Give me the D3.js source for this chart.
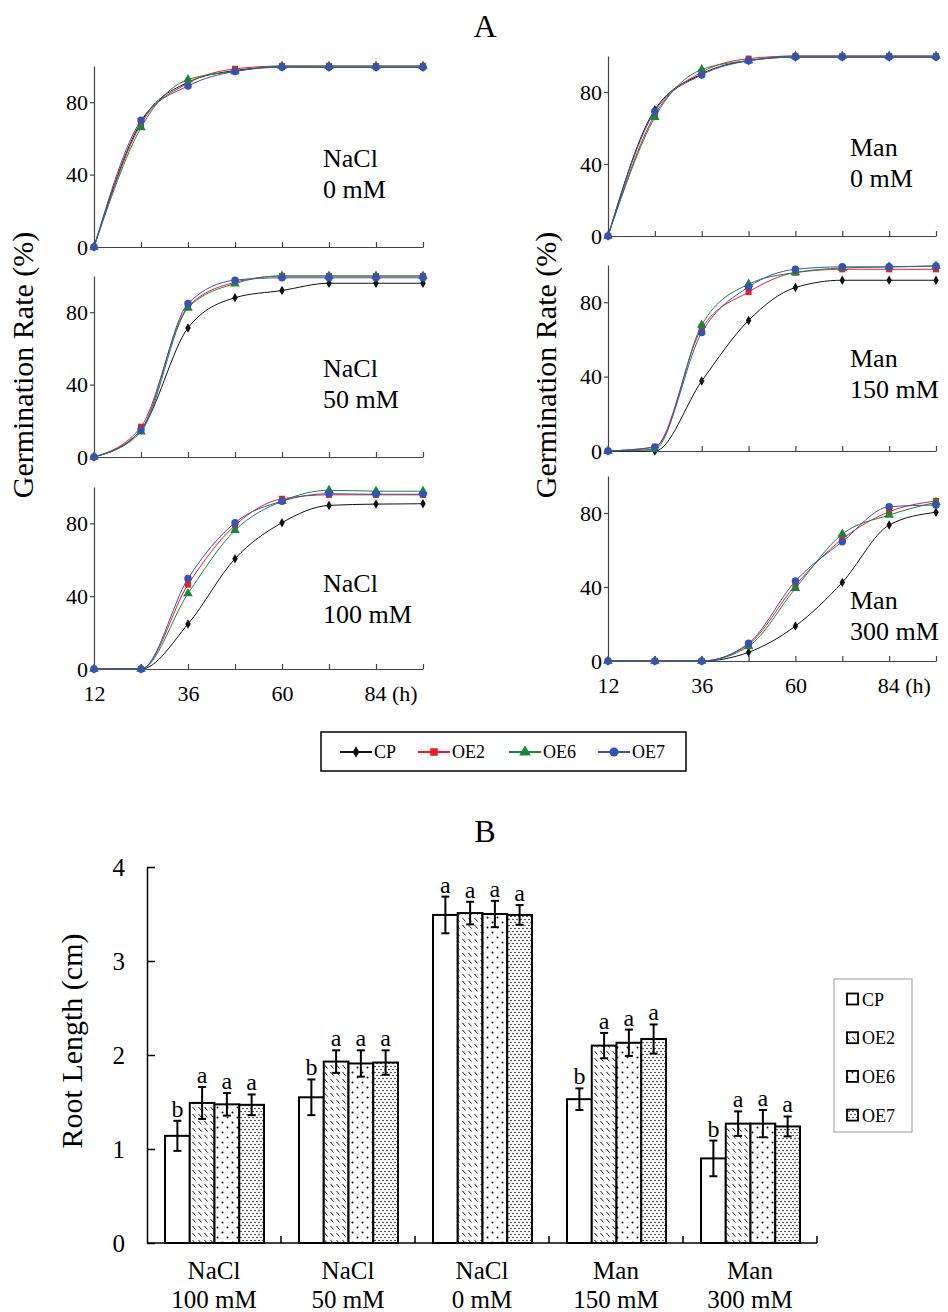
<!DOCTYPE html>
<html>
<head>
<meta charset="utf-8">
<script src="https://cdn.jsdelivr.net/npm/d3@7/dist/d3.min.js"></script>
<style>
body { margin: 0; background: #fff; }
text { font-family: "Liberation Serif", "Times New Roman", serif; fill: #000; }
</style>
</head>
<body>
<svg id="fig" width="948" height="1312"></svg>
<script>
// ---- data ----
// sampling times (h)
var hours = [12, 24, 36, 48, 60, 72, 84, 96];
var lines = ["CP", "OE2", "OE6", "OE7"];
var xLabelHours = [12, 36, 60, 84];
var yTicksA = [0, 40, 80];
var yTicksB = [0, 1, 2, 3, 4];

// germination rate (%), rows = CP, OE2, OE6, OE7
var nacl0 = [
	[0, 69, 91, 97.5, 99.5, 99.3, 99.3, 99.3],
	[0, 68, 90.5, 98.4, 100, 100, 100, 100],
	[0, 66, 92.5, 97, 100, 100, 100, 100],
	[0, 70, 89, 97, 99.3, 99.3, 99.3, 99.3]
];
var nacl50 = [
	[0, 15, 71.3, 88, 92, 96, 96, 96],
	[0, 16.7, 83, 96.5, 100, 100, 100, 100],
	[0, 14, 82.4, 95.8, 100, 100, 100, 100],
	[0, 15, 84.8, 97.7, 99, 99, 99, 99]
];
var nacl100 = [
	[0, 0, 24.7, 60.6, 80.4, 89.9, 90.6, 90.8],
	[0, 0, 46.4, 78.9, 93.5, 95.7, 95.7, 95.7],
	[0, 0, 41.5, 76.2, 92.2, 98.2, 97.7, 97.7],
	[0, 0, 49.7, 80.4, 92.2, 96.3, 96, 96]
];
var man0 = [
	[0, 70.2, 90, 97.5, 99.4, 99.4, 99.4, 99.4],
	[0, 67.4, 91, 98.5, 100, 100, 100, 100],
	[0, 66, 92.5, 97.5, 100, 100, 100, 100],
	[0, 69.3, 89.5, 97.3, 99.4, 99.4, 99.4, 99.4]
];
var man150 = [
	[0, 0, 37.6, 70.2, 87.9, 91.8, 91.8, 91.8],
	[0, 2.3, 65.9, 85.5, 95.9, 97.7, 97.7, 97.7],
	[0, 1, 67.7, 89.7, 96, 98.4, 99, 99.5],
	[0, 2, 63.7, 88.2, 97.7, 99, 99, 99.5]
];
var man300 = [
	[0, 0, 0, 4.7, 18.9, 42.5, 73.5, 80.4],
	[0, 0, 0, 9, 41, 65.9, 80.7, 86.5],
	[0, 0, 0, 8, 39.3, 68.6, 78.9, 85.8],
	[0, 0, 0, 9.6, 43.2, 64.5, 83.4, 84.3]
];

// root length (cm)
var rootGroups = ["NaCl 100 mM", "NaCl 50 mM", "NaCl 0 mM", "Man 150 mM", "Man 300 mM"];
var rootCP  = [1.14, 1.55, 3.49, 1.53, 0.90];
var rootOE2 = [1.49, 1.93, 3.51, 2.10, 1.27];
var rootOE6 = [1.475, 1.91, 3.50, 2.13, 1.27];
var rootOE7 = [1.47, 1.92, 3.49, 2.17, 1.24];
var errCP  = [0.16, 0.19, 0.195, 0.115, 0.19];
var errOE2 = [0.17, 0.12, 0.12, 0.135, 0.13];
var errOE6 = [0.12, 0.14, 0.14, 0.14, 0.145];
var errOE7 = [0.11, 0.13, 0.105, 0.155, 0.106];
var letterCP  = ["b", "b", "a", "b", "b"];
var letterOE2 = ["a", "a", "a", "a", "a"];
var letterOE6 = ["a", "a", "a", "a", "a"];
var letterOE7 = ["a", "a", "a", "a", "a"];

// ---- styles ----
var serif = '"Liberation Serif", "Times New Roman", serif';
var lineColors = ["#111111", "#ee1c24", "#17873b", "#3852b4"];
var symbols = [d3.symbolDiamond, d3.symbolSquare, d3.symbolTriangle, d3.symbolCircle];
var symbolSizes = [26, 38, 40, 44];
var barFills = ["#fff", "url(#hatch)", "url(#dotsSparse)", "url(#dotsDense)"];

var svg = d3.select("#fig");

// patterns for the bars
var defs = svg.append("defs");
var hatch = defs.append("pattern").attr("id", "hatch").attr("patternUnits", "userSpaceOnUse")
		.attr("width", 6).attr("height", 7);
hatch.append("rect").attr("width", 6).attr("height", 7).attr("fill", "#fff");
hatch.append("path").attr("d", "M0.5,1 L3.5,4.5").attr("stroke", "#000").attr("stroke-width", 0.9);
var sparse = defs.append("pattern").attr("id", "dotsSparse").attr("patternUnits", "userSpaceOnUse")
		.attr("width", 10).attr("height", 10);
sparse.append("rect").attr("width", 10).attr("height", 10).attr("fill", "#fff");
sparse.append("circle").attr("cx", 2.5).attr("cy", 2.5).attr("r", 1).attr("fill", "#000");
sparse.append("circle").attr("cx", 7.5).attr("cy", 7.5).attr("r", 1).attr("fill", "#000");
var dense = defs.append("pattern").attr("id", "dotsDense").attr("patternUnits", "userSpaceOnUse")
		.attr("width", 4).attr("height", 6);
dense.append("rect").attr("width", 4).attr("height", 6).attr("fill", "#fff");
dense.append("circle").attr("cx", 1).attr("cy", 1.5).attr("r", 0.75).attr("fill", "#000");
dense.append("circle").attr("cx", 3).attr("cy", 4.5).attr("r", 0.75).attr("fill", "#000");

// ================= panel A =================
svg.append("text").attr("x", 485).attr("y", 37).attr("text-anchor", "middle")
		.style("font-size", "32px").text("A");

var panels = [
	{data: nacl0,   label: ["NaCl", "0 mM"],   x0: 94,  x1: 423, y0: 247, y1: 66,  lx: 323, ly: 167, bottom: false},
	{data: nacl50,  label: ["NaCl", "50 mM"],  x0: 94,  x1: 423, y0: 457, y1: 276, lx: 323, ly: 377, bottom: false},
	{data: nacl100, label: ["NaCl", "100 mM"], x0: 94,  x1: 423, y0: 669, y1: 487, lx: 323, ly: 592, bottom: true},
	{data: man0,    label: ["Man", "0 mM"],    x0: 608, x1: 936, y0: 236, y1: 56,  lx: 850, ly: 156, bottom: false},
	{data: man150,  label: ["Man", "150 mM"],  x0: 608, x1: 936, y0: 451, y1: 265, lx: 850, ly: 367, bottom: false},
	{data: man300,  label: ["Man", "300 mM"],  x0: 608, x1: 936, y0: 661, y1: 476, lx: 850, ly: 609, bottom: true}
];

function drawPanel(p) {
	var x = d3.scaleLinear().domain([12, 96]).range([p.x0, p.x1]);
	var y = d3.scaleLinear().domain([0, 100]).range([p.y0, p.y1]);
	var g = svg.append("g");

	// x axis, ticks pointing up
	var xAxis = d3.axisBottom(x).tickValues(hours).tickSize(-5).tickSizeOuter(0).tickPadding(16)
			.tickFormat(function(d) {
				if (!p.bottom || xLabelHours.indexOf(d) < 0) return "";
				return d == 84 ? "84 (h)" : d;
			});
	var gx = g.append("g").attr("transform", "translate(0," + p.y0 + ")").call(xAxis)
			.attr("font-family", serif).attr("font-size", 22);
	// "(h)" hangs to the right of 84
	gx.selectAll(".tick text").filter(function(d) { return d == 84; })
			.attr("text-anchor", "start").attr("x", -12);

	var yAxis = d3.axisLeft(y).tickValues(yTicksA).tickSizeInner(4).tickSizeOuter(0).tickPadding(2);
	g.append("g").attr("transform", "translate(" + p.x0 + ",0)").call(yAxis)
			.attr("font-family", serif).attr("font-size", 22);

	g.selectAll(".domain, .tick line").attr("stroke", "#444").attr("stroke-width", 1.2);

	// smoothed lines and markers
	var line = d3.line().x(function(d, i) { return x(hours[i]); }).y(function(d) { return y(d); })
			.curve(d3.curveMonotoneX);
	p.data.forEach(function(series, k) {
		g.append("path").attr("d", line(series)).attr("fill", "none")
				.attr("stroke", lineColors[k]).attr("stroke-width", 1);
		g.selectAll(".m" + k).data(series).enter().append("path").attr("class", "m" + k)
				.attr("d", d3.symbol().type(symbols[k]).size(symbolSizes[k]))
				.attr("transform", function(d, i) { return "translate(" + x(hours[i]) + "," + y(d) + ")"; })
				.attr("fill", lineColors[k]);
	});

	// treatment label
	var t = g.append("text").attr("x", p.lx).attr("y", p.ly).style("font-size", "26px");
	t.append("tspan").attr("x", p.lx).text(p.label[0]);
	t.append("tspan").attr("x", p.lx).attr("dy", 31).text(p.label[1]);
}
panels.forEach(drawPanel);

// y titles
svg.append("text").attr("transform", "translate(33,365) rotate(-90)").attr("text-anchor", "middle")
		.style("font-size", "30px").text("Germination Rate (%)");
svg.append("text").attr("transform", "translate(556,365) rotate(-90)").attr("text-anchor", "middle")
		.style("font-size", "30px").text("Germination Rate (%)");

// legend A
var legA = svg.append("g");
legA.append("rect").attr("x", 321).attr("y", 732).attr("width", 365).attr("height", 39)
		.attr("fill", "#fff").attr("stroke", "#000").attr("stroke-width", 1.5);
var legAX = [340, 418, 509, 598];
lines.forEach(function(name, k) {
	var lx = legAX[k];
	legA.append("line").attr("x1", lx).attr("x2", lx + 32).attr("y1", 752).attr("y2", 752)
			.attr("stroke", lineColors[k]).attr("stroke-width", 2);
	legA.append("path").attr("d", d3.symbol().type(symbols[k]).size(symbolSizes[k] * 1.5))
			.attr("transform", "translate(" + (lx + 16) + ",752)").attr("fill", lineColors[k]);
	legA.append("text").attr("x", lx + 34).attr("y", 758).style("font-size", "18px").text(name);
});

// ================= panel B =================
svg.append("text").attr("x", 485).attr("y", 842).attr("text-anchor", "middle")
		.style("font-size", "32px").text("B");

var rootVals = [rootCP, rootOE2, rootOE6, rootOE7];
var rootErrs = [errCP, errOE2, errOE6, errOE7];
var rootLetters = [letterCP, letterOE2, letterOE6, letterOE7];

var xb = d3.scaleBand().domain(rootGroups).range([147, 817]);
var xInner = d3.scaleBand().domain(lines).range([18, 117]);
var yb = d3.scaleLinear().domain([0, 4]).range([1243, 867]);

var gb = svg.append("g");

var bars = [];
rootGroups.forEach(function(gname, i) {
	lines.forEach(function(name, k) {
		bars.push({group: gname, line: name, k: k, v: rootVals[k][i], e: rootErrs[k][i], letter: rootLetters[k][i]});
	});
});

gb.selectAll(".bar").data(bars).enter().append("rect").attr("class", "bar")
		.attr("x", function(d) { return xb(d.group) + xInner(d.line); })
		.attr("y", function(d) { return yb(d.v); })
		.attr("width", xInner.bandwidth())
		.attr("height", function(d) { return yb(0) - yb(d.v); })
		.attr("fill", function(d) { return barFills[d.k]; })
		.attr("stroke", "#000").attr("stroke-width", 2);

// error bars
var eb = gb.selectAll(".err").data(bars).enter().append("g").attr("class", "err")
		.attr("transform", function(d) { return "translate(" + (xb(d.group) + xInner(d.line) + xInner.bandwidth() / 2) + ",0)"; });
eb.append("line").attr("y1", function(d) { return yb(d.v + d.e); }).attr("y2", function(d) { return yb(d.v - d.e); })
		.attr("stroke", "#000").attr("stroke-width", 2);
eb.append("line").attr("x1", -4).attr("x2", 4)
		.attr("y1", function(d) { return yb(d.v + d.e); }).attr("y2", function(d) { return yb(d.v + d.e); })
		.attr("stroke", "#000").attr("stroke-width", 2);
eb.append("line").attr("x1", -4).attr("x2", 4)
		.attr("y1", function(d) { return yb(d.v - d.e); }).attr("y2", function(d) { return yb(d.v - d.e); })
		.attr("stroke", "#000").attr("stroke-width", 2);
eb.append("text").attr("text-anchor", "middle").attr("y", function(d) { return yb(d.v + d.e) - 4; })
		.style("font-size", "24px").text(function(d) { return d.letter; });

// y axis, ticks inside
var yAxisB = d3.axisLeft(yb).tickValues(yTicksB).tickSizeInner(-8).tickSizeOuter(0).tickPadding(22)
		.tickFormat(d3.format("d"));
gb.append("g").attr("transform", "translate(147,0)").call(yAxisB)
		.attr("font-family", serif).attr("font-size", 25);

// x axis: baseline and group separators
gb.append("line").attr("x1", 147).attr("x2", 817).attr("y1", yb(0)).attr("y2", yb(0))
		.attr("stroke", "#000").attr("stroke-width", 1.5);
gb.selectAll(".sep").data(rootGroups).enter().append("line").attr("class", "sep")
		.attr("x1", function(d) { return xb(d) + xb.bandwidth(); })
		.attr("x2", function(d) { return xb(d) + xb.bandwidth(); })
		.attr("y1", yb(0)).attr("y2", yb(0) - 7)
		.attr("stroke", "#000").attr("stroke-width", 1.5);
gb.selectAll(".domain, .tick line").attr("stroke", "#000").attr("stroke-width", 1.5);

// category labels, two lines
var cat = gb.selectAll(".cat").data(rootGroups).enter().append("text").attr("class", "cat")
		.attr("text-anchor", "middle").style("font-size", "25px");
cat.append("tspan").attr("x", function(d) { return xb(d) + xb.bandwidth() / 2; }).attr("y", 1279)
		.text(function(d) { return d.slice(0, d.indexOf(" ")); });
cat.append("tspan").attr("x", function(d) { return xb(d) + xb.bandwidth() / 2; }).attr("y", 1308)
		.text(function(d) { return d.slice(d.indexOf(" ") + 1); });

svg.append("text").attr("transform", "translate(82,1041) rotate(-90)").attr("text-anchor", "middle")
		.style("font-size", "30px").text("Root Length (cm)");

// legend B
var legB = svg.append("g");
legB.append("rect").attr("x", 834).attr("y", 979).attr("width", 78).attr("height", 153)
		.attr("fill", "#fff").attr("stroke", "#999").attr("stroke-width", 1);
lines.forEach(function(name, k) {
	var cy = 999 + k * 38.7;
	legB.append("rect").attr("x", 847).attr("y", cy - 5.5).attr("width", 11).attr("height", 11)
			.attr("fill", barFills[k]).attr("stroke", "#000").attr("stroke-width", 1.8);
	legB.append("text").attr("x", 862).attr("y", cy + 6.5).style("font-size", "18px").text(name);
});
</script>
</body>
</html>
